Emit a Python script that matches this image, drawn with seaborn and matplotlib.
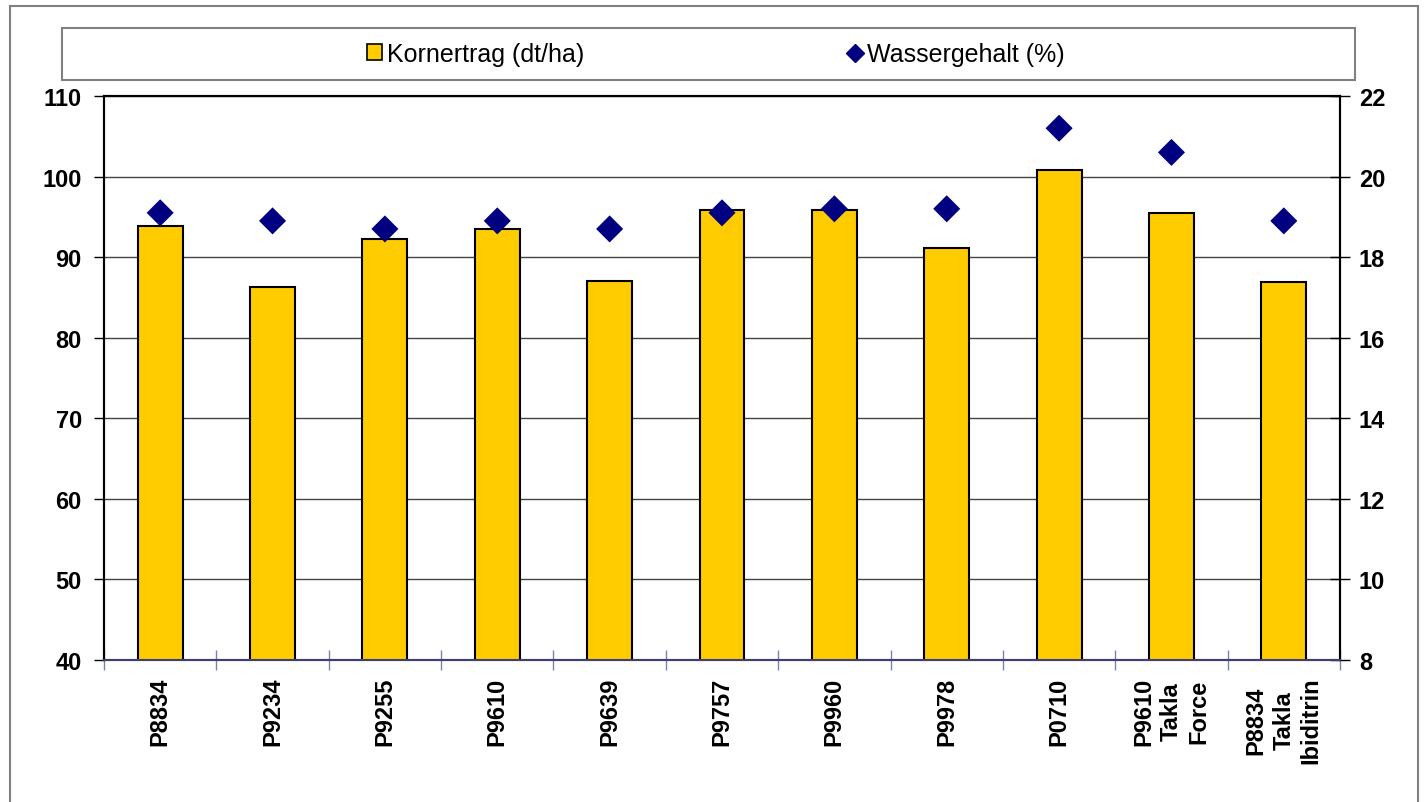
import numpy as np
import pandas as pd
import matplotlib
matplotlib.use("Agg")
import matplotlib.pyplot as plt
import seaborn as sns
from matplotlib.patches import Patch, Rectangle
from matplotlib.lines import Line2D
from matplotlib.ticker import FixedLocator

# data
sorten = ["P8834", "P9234", "P9255", "P9610", "P9639", "P9757", "P9960",
          "P9978", "P0710", "P9610\nTakla\nForce", "P8834\nTakla\nIbiditrin"]
kornertrag = [93.9, 86.3, 92.3, 93.5, 87.0, 95.9, 95.85, 91.1, 100.8, 95.5, 86.9]
wassergehalt = [19.1, 18.9, 18.7, 18.9, 18.7, 19.1, 19.2, 19.2, 21.2, 20.6, 18.9]

sns.set_style("white")
plt.rcParams['font.family'] = ['Liberation Sans', 'DejaVu Sans']
plt.rcParams['text.color'] = 'black'
plt.rcParams['xtick.labelcolor'] = 'black'
plt.rcParams['ytick.labelcolor'] = 'black'

df = pd.DataFrame({"Sorte": sorten, "Ertrag": kornertrag, "Wasser": wassergehalt})

fig = plt.figure(figsize=(14.25, 8.03), dpi=100)
ax = fig.add_axes([104/1425, 1-661/803, (1340-104)/1425, (661-97)/803])
ax2 = ax.twinx()

# bars (left axis)
sns.barplot(data=df, x="Sorte", y="Ertrag", color="#FFCC00", saturation=1,
            edgecolor="black", linewidth=1.5, width=0.4, ax=ax, zorder=3)
ax.set_ylim(40, 110)
ax.set_yticks(range(40, 111, 10))
ax.yaxis.grid(True, color="#444444", lw=1, zorder=0)
ax.set_axisbelow(True)
ax.set_xlim(-0.5, len(sorten) - 0.5)
ax.set_xlabel("")
ax.set_ylabel("")

# diamonds (right axis)
sns.scatterplot(x=df.index, y=df["Wasser"], marker="D", s=190, color="#000080",
                edgecolor="none", ax=ax2, zorder=4)
ax2.set_ylim(8, 22)
ax2.set_yticks(range(8, 23, 2))
ax2.set_ylabel("")
ax2.set_xlim(-0.5, len(sorten) - 0.5)

# ticks
ax.tick_params(axis="y", which="major", direction="out", length=7, width=1,
               color="black", pad=9, labelsize=17, labelcolor="black")
for t in ax.get_yticklabels():
    t.set_fontweight("bold")
ax2.tick_params(axis="y", direction="inout", length=15, width=1, color="black",
                pad=6, labelsize=17, labelcolor="black")
for t in ax2.get_yticklabels():
    t.set_fontweight("bold")

ax.xaxis.set_minor_locator(FixedLocator(np.arange(-0.5, len(sorten), 1)))
ax.tick_params(axis="x", which="major", length=0, pad=12, labelsize=17,
               labelcolor="black")
ax.tick_params(axis="x", which="minor", direction="inout", length=15, width=1,
               color="#8080b0", bottom=True)
for t in ax.get_xticklabels():
    t.set_rotation(90)
    t.set_fontweight("bold")
    t.set_va("top")
    t.set_ha("center")
    t.set_linespacing(1.25)

for a in (ax, ax2):
    for s in ("left", "right", "top"):
        a.spines[s].set_color("black")
        a.spines[s].set_linewidth(1.5)
    a.spines["bottom"].set_color("#404070")
    a.spines["bottom"].set_linewidth(1.5)

# legend box and outer frame
W, H = 1425, 803
fig.patches.append(Rectangle((62/W, 1-81/H), (1355-62)/W, 52/H, transform=fig.transFigure,
                             fill=False, edgecolor="#808080", lw=1.5))
fig.patches.append(Rectangle((10/W, -0.01), (1418-10)/W, 1-7/H+0.01, transform=fig.transFigure,
                             fill=False, edgecolor="#808080", lw=1.5))

handles = [Patch(facecolor="#FFCC00", edgecolor="black", lw=1.2),
           Line2D([], [], ls="none", marker="D", ms=9, color="#000080")]
fig.legend(handles, ["Kornertrag (dt/ha)", "Wassergehalt (%)"], loc="center",
           bbox_to_anchor=(716/W, 1-55/H), ncol=2, frameon=False, fontsize=18,
           handlelength=0.6, handleheight=0.6, handletextpad=0.2, columnspacing=10.5,
           labelcolor="black")

fig.savefig("out.png", dpi=100)
